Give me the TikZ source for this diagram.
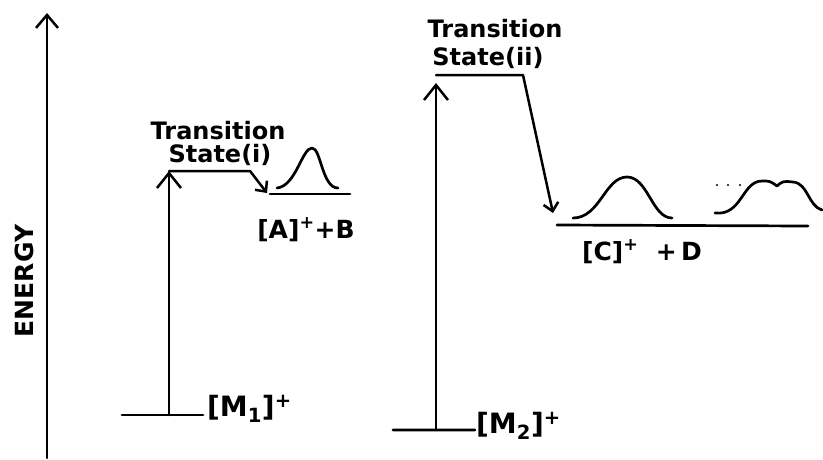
\documentclass[tikz,border=0pt]{standalone}
\usepackage{fontspec}
\setmainfont{DejaVu Sans}
\usetikzlibrary{arrows.meta,positioning}
\tikzset{
  lvl/.style={line width=2.7pt},
  jump/.style={line width=2.5pt,-{Straight Barb[length=15pt,width=24pt,line width=2.5pt]}},
  drop/.style={line width=2.5pt,-{Straight Barb[length=8pt,width=15pt,line width=2.5pt]}},
  lbl/.style={inner sep=0pt,font=\fontsize{24}{24}\selectfont\bfseries},
  ion/.style={inner sep=0pt,font=\fontsize{25}{25}\selectfont\bfseries},
  big/.style={font=\fontsize{28}{28}\selectfont\bfseries},
  every picture/.style={line cap=round,line join=round}}

\begin{document}
\begin{tikzpicture}[x=1pt,y=-1pt]
  \useasboundingbox (0,0) rectangle (823,459);
  % energy axis
  \coordinate (e0) at (47,458);\coordinate (e1) at (47,13);
  \draw[jump,-{Straight Barb[length=13pt,width=22pt,line width=2.5pt]}] (e0)--(e1);
  \node[lbl,font=\fontsize{25}{25}\selectfont\bfseries,rotate=90] (energy) at (24,281){ENERGY};
  % first ion
  \coordinate (m1l) at (122,415);\coordinate (m1r) at (203,415);
  \coordinate (m1) at (169,415);\coordinate (ts1) at (169,171);
  \coordinate (ts1r) at (250,171);\coordinate (ab) at (267,193);
  \coordinate (abl) at (270,194);\coordinate (abr) at (350,194);
  \draw[lvl] (m1l)--(m1r) (abl)--(abr);
  \draw[jump] (m1)--(ts1);
  \draw[drop] (ts1)--(ts1r)--(ab);
  \node[lbl,anchor=base] (ts1a) at (218,139){Transition};
  \node[lbl,anchor=base] (ts1b) at (220,162){State(i)};
  \node[ion,big,anchor=west] (m1lab) at (207,409){[M\textsubscript{1}]\textsuperscript{+}};
  \node[ion,anchor=base] (ablab) at (306,238){[A]\textsuperscript{+}+B};
  \draw[lvl] (277,188) .. controls (296,186) and (302,148) .. (312,148)
     .. controls (321,148) and (322,188) .. (338,188);
  % second ion
  \coordinate (m2l) at (393,430);\coordinate (m2r) at (475,430);
  \coordinate (m2) at (436,430);\coordinate (ts2) at (436,83);
  \coordinate (ts2l) at (436,75);\coordinate (ts2r) at (523,75);
  \coordinate (cd) at (553,213);
  \coordinate (cdl) at (557,225);\coordinate (cdr) at (808,226);
  \draw[lvl] (m2l)--(m2r) (cdl)--(cdr);
  \draw[jump] (m2)--(ts2);
  \draw[drop] (ts2l)--(ts2r)--(cd);
  \node[lbl,anchor=base] (ts2a) at (495,37){Transition};
  \node[lbl,anchor=base] (ts2b) at (488,65){State(ii)};
  \node[ion,big,anchor=west] (m2lab) at (476,426){[M\textsubscript{2}]\textsuperscript{+}};
  \node[ion,anchor=base] (cdlab) at (642,260){[C]\textsuperscript{+}\ \ +\,D};
  \draw[lvl] (573,218) .. controls (600,218) and (605,177) .. (627,177)
     .. controls (648,177) and (652,218) .. (672,218);
  \draw[lvl] (715,213) .. controls (742,216) and (742,181) .. (762,181)
     .. controls (770,181) .. (777,186) .. controls (783,181) .. (793,182)
     .. controls (808,183) and (808,206) .. (822,210);
  \foreach \dx in {717,728,740}
    \fill (\dx,185) circle (1.2pt);
\end{tikzpicture}
\end{document}
